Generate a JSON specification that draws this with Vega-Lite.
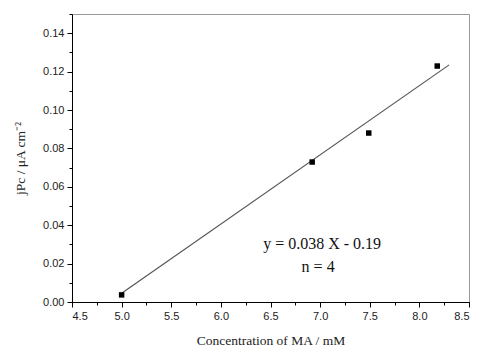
{
  "$schema": "https://vega.github.io/schema/vega-lite/v6.json",
  "width": 397,
  "height": 288,
  "autosize": "none",
  "padding": {"left": 72, "top": 14, "right": 8, "bottom": 45},
  "background": "white",
  "config": {
    "view": {"stroke": "#999999", "strokeWidth": 1},
    "axis": {"grid": false, "domainColor": "#000", "tickColor": "#000", "labelFont": "Liberation Sans", "labelFontSize": 11, "labelColor": "#222", "titleFont": "Liberation Serif", "titleFontSize": 13.5, "titleFontWeight": "normal", "titleColor": "#222"}
  },
  "datasets": {
    "points": [
      {"c": 5.0, "j": 0.0037},
      {"c": 6.92, "j": 0.0729},
      {"c": 7.49, "j": 0.088},
      {"c": 8.18, "j": 0.1229}
    ],
    "fit": [
      {"c": 5.0, "j": 0.0045},
      {"c": 8.3, "j": 0.1235}
    ],
    "labels": [
      {"c": 7.02, "j": 0.0302, "t": "y = 0.038 X - 0.19"},
      {"c": 6.98, "j": 0.0182, "t": "n = 4"}
    ]
  },
  "layer": [
    {
      "data": {"name": "fit"},
      "mark": {"type": "line", "color": "#555", "strokeWidth": 1.2},
      "encoding": {
        "x": {"field": "c", "type": "quantitative", "scale": {"domain": [4.5, 8.5], "nice": false, "zero": false},
          "axis": {"orient": "bottom", "values": [4.5,4.75,5,5.25,5.5,5.75,6,6.25,6.5,6.75,7,7.25,7.5,7.75,8,8.25,8.5], "labels": false, "tickSize": 3, "title": null, "domain": true}},
        "y": {"field": "j", "type": "quantitative", "scale": {"domain": [0, 0.15], "nice": false},
          "axis": {"orient": "left", "values": [0,0.01,0.02,0.03,0.04,0.05,0.06,0.07,0.08,0.09,0.1,0.11,0.12,0.13,0.14,0.15], "labels": false, "tickSize": 3, "title": null}}
      }
    },
    {
      "data": {"name": "points"},
      "mark": {"type": "point", "shape": "square", "filled": true, "color": "#000", "size": 30, "opacity": 1},
      "encoding": {
        "x": {"field": "c", "type": "quantitative", "scale": {"domain": [4.5, 8.5], "nice": false, "zero": false},
          "axis": {"orient": "bottom", "values": [4.5,5,5.5,6,6.5,7,7.5,8,8.5], "format": ".1f", "tickSize": 5, "labelPadding": 3, "title": "Concentration of MA / mM", "titlePadding": 12, "domain": false}},
        "y": {"field": "j", "type": "quantitative", "scale": {"domain": [0, 0.15], "nice": false},
          "axis": {"orient": "left", "values": [0,0.02,0.04,0.06,0.08,0.1,0.12,0.14], "format": ".2f", "tickSize": 5, "labelPadding": 3, "title": "jPc / μA cm⁻²", "titlePadding": 15, "domain": false}}
      }
    },
    {
      "data": {"name": "labels"},
      "mark": {"type": "text", "font": "Liberation Serif", "fontSize": 16, "color": "#111", "align": "center", "baseline": "middle"},
      "encoding": {
        "x": {"field": "c", "type": "quantitative", "scale": {"domain": [4.5, 8.5], "nice": false, "zero": false}, "axis": null},
        "y": {"field": "j", "type": "quantitative", "scale": {"domain": [0, 0.15], "nice": false}, "axis": null},
        "text": {"field": "t"}
      }
    }
  ],
  "resolve": {"axis": {"x": "independent", "y": "independent"}, "scale": {"x": "independent", "y": "independent"}}
}
